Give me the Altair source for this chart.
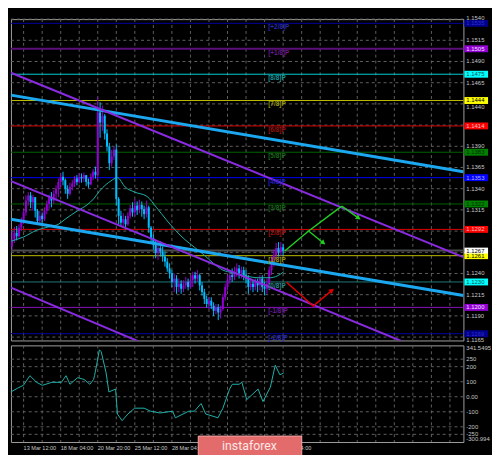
import altair as alt
import numpy as np
import pandas as pd

# ---------------- data ----------------
bar_close = [
 1.1280, 1.1288, 1.1284, 1.1294, 1.1302, 1.1312, 1.1326, 1.1332, 1.1324, 1.1330,
 1.1314, 1.1302, 1.1308, 1.1304, 1.1314, 1.1322, 1.1330, 1.1326, 1.1334, 1.1340,
 1.1348, 1.1354, 1.1350, 1.1340, 1.1334, 1.1342, 1.1346, 1.1352, 1.1348, 1.1354,
 1.1352, 1.1356, 1.1348, 1.1345, 1.1354, 1.1360, 1.1356, 1.1430, 1.1418, 1.1426,
 1.1405, 1.1390, 1.1370, 1.1378, 1.1386, 1.1328, 1.1308, 1.1300, 1.1304, 1.1298,
 1.1308, 1.1317, 1.1312, 1.1320, 1.1315, 1.1321, 1.1316, 1.1310, 1.1318, 1.1294,
 1.1282, 1.1274, 1.1264, 1.1270, 1.1266, 1.1260, 1.1254, 1.1246, 1.1240, 1.1230,
 1.1234, 1.1224, 1.1228, 1.1222, 1.1226, 1.1230, 1.1224, 1.1232, 1.1238, 1.1234,
 1.1238, 1.1226, 1.1218, 1.1210, 1.1204, 1.1208, 1.1202, 1.1196, 1.1200, 1.1194,
 1.1198, 1.1212, 1.1224, 1.1232, 1.1238, 1.1236, 1.1242, 1.1246, 1.1240, 1.1244,
 1.1238, 1.1234, 1.1224, 1.1228, 1.1224, 1.1230, 1.1226, 1.1234, 1.1224, 1.1222,
 1.1228, 1.1244, 1.1256, 1.1262, 1.1270, 1.1265, 1.1271, 1.1267]
bar_high = [
 1.1290, 1.1295, 1.1296, 1.1298, 1.1306, 1.1315, 1.1332, 1.1336, 1.1336, 1.1333,
 1.1324, 1.1316, 1.1314, 1.1312, 1.1318, 1.1326, 1.1333, 1.1336, 1.1338, 1.1344,
 1.1352, 1.1358, 1.1360, 1.1352, 1.1344, 1.1347, 1.1350, 1.1355, 1.1356, 1.1358,
 1.1358, 1.1359, 1.1356, 1.1352, 1.1358, 1.1363, 1.1366, 1.1448, 1.1442, 1.1438,
 1.1428, 1.1410, 1.1394, 1.1386, 1.1390, 1.1392, 1.1330, 1.1314, 1.1311, 1.1308,
 1.1312, 1.1321, 1.1324, 1.1328, 1.1325, 1.1327, 1.1325, 1.1320, 1.1326, 1.1320,
 1.1296, 1.1286, 1.1280, 1.1276, 1.1278, 1.1272, 1.1266, 1.1258, 1.1252, 1.1244,
 1.1240, 1.1238, 1.1234, 1.1232, 1.1232, 1.1236, 1.1234, 1.1238, 1.1242, 1.1242,
 1.1244, 1.1240, 1.1230, 1.1222, 1.1214, 1.1212, 1.1212, 1.1206, 1.1204, 1.1204,
 1.1202, 1.1216, 1.1228, 1.1238, 1.1244, 1.1246, 1.1248, 1.1252, 1.1250, 1.1248,
 1.1248, 1.1244, 1.1238, 1.1234, 1.1232, 1.1234, 1.1234, 1.1238, 1.1238, 1.1230,
 1.1234, 1.1248, 1.1260, 1.1268, 1.1276, 1.1277, 1.1277, 1.1275]
bar_low = [
 1.1268, 1.1276, 1.1279, 1.1282, 1.1290, 1.1298, 1.1308, 1.1320, 1.1317, 1.1314,
 1.1306, 1.1298, 1.1298, 1.1300, 1.1302, 1.1310, 1.1316, 1.1318, 1.1322, 1.1326,
 1.1330, 1.1342, 1.1344, 1.1334, 1.1328, 1.1332, 1.1338, 1.1342, 1.1344, 1.1346,
 1.1347, 1.1348, 1.1343, 1.1341, 1.1344, 1.1350, 1.1352, 1.1350, 1.1400, 1.1408,
 1.1398, 1.1384, 1.1362, 1.1366, 1.1374, 1.1320, 1.1298, 1.1295, 1.1294, 1.1292,
 1.1296, 1.1305, 1.1307, 1.1308, 1.1309, 1.1311, 1.1307, 1.1304, 1.1306, 1.1288,
 1.1276, 1.1268, 1.1258, 1.1256, 1.1260, 1.1254, 1.1248, 1.1242, 1.1234, 1.1224,
 1.1218, 1.1216, 1.1218, 1.1216, 1.1218, 1.1222, 1.1220, 1.1222, 1.1224, 1.1228,
 1.1230, 1.1220, 1.1214, 1.1204, 1.1200, 1.1198, 1.1198, 1.1190, 1.1192, 1.1185,
 1.1187, 1.1196, 1.1208, 1.1220, 1.1228, 1.1230, 1.1232, 1.1236, 1.1234, 1.1234,
 1.1232, 1.1228, 1.1216, 1.1220, 1.1218, 1.1220, 1.1218, 1.1220, 1.1218, 1.1214,
 1.1216, 1.1226, 1.1238, 1.1248, 1.1256, 1.1260, 1.1261, 1.1261]
first_open = 1.1272

ma_idx = [0.5, 5.9, 11.6, 16.9, 21.0, 23.9, 29.3, 33.4, 36.2, 38.7, 41.6, 43.6, 46.5,
          49.8, 53.9, 59.2, 63.3, 67.4, 71.5, 75.6, 79.7, 83.8, 87.9, 92.0, 96.1,
          101.9, 107.2, 112.5, 115.4, 118.3]
ma_val = [1.1278, 1.1283, 1.1291, 1.1295, 1.1298, 1.1304, 1.1314, 1.1321, 1.1328, 1.1337,
          1.1345, 1.1349, 1.1353, 1.1342, 1.1336, 1.1331, 1.1318, 1.1304, 1.1291, 1.1280,
          1.1271, 1.1262, 1.1252, 1.1244, 1.1241, 1.1237, 1.1235, 1.1235, 1.1237, 1.1242]

cci_idx = [0.5, 3.4, 5.9, 8.7, 11.6, 14.1, 18.2, 22.3, 24.3, 26.0, 29.3, 32.1, 34.6, 36.2,
           36.6, 37.5, 38.7, 39.5, 41.6, 42.8, 45.7, 46.5, 48.5, 51.0, 53.9, 58.0, 60.8,
           64.9, 70.3, 71.5, 77.3, 79.7, 82.6, 84.6, 89.9, 92.0, 94.9, 96.1, 99.0, 100.2,
           102.3, 107.2, 109.3, 112.5, 114.6, 116.6, 118.3]
cci_val = [32, 57, 76, 140, 96, 76, 96, 96, 140, 83, 127, 115, 83, 115, 140, 210, 312, 299,
           159, 32, 51, -115, -159, -115, -76, -76, -96, -108, -96, -140, -96, -96, -45,
           -115, -140, -76, 51, 83, 83, 96, -19, 51, -32, 64, 210, 146, 159]

murray_names = ["[+2/8]P", "[+1/8]P", "[8/8]P", "[7/8]P", "[6/8]P", "[5/8]P", "[4/8]P",
                "[3/8]P", "[2/8]P", "[1/8]P", "[0/8]P", "[-1/8]P", "[-2/8]P"]
murray_prices = [1.1535, 1.1505, 1.1475, 1.1444, 1.1414, 1.1383, 1.1353,
                 1.1322, 1.1292, 1.1261, 1.1230, 1.1200, 1.1169]
current_price = 1.1267

# price-scale labels that are not hidden under the coloured level boxes
price_ticks = [1.1515, 1.1490, 1.1465, 1.1390, 1.1365,
               1.1340, 1.1315, 1.1240, 1.1215, 1.1190]
# labels that peek out from just beside a level box (ticks, text nudge in px)
edge_ticks = [1.1540, 1.1440, 1.1165]
edge_nudge = [-1.5, 3.0, 2.6]
grid_ticks = [1.1540, 1.1515, 1.1490, 1.1465, 1.1440, 1.1415, 1.1390, 1.1365,
              1.1340, 1.1315, 1.1290, 1.1265, 1.1240, 1.1215, 1.1190, 1.1165]
cci_ticks = [341.5495, 250, 200, 100, 0, -100, -200, -250, -300.994]
cci_tick_text = ["341.5495", "250", "200", "100", "0.00", "-100", "-200", "-250", "-300.994"]

time_idx = [6, 22, 38, 54, 70, 118]
time_text = ["13 Mar 12:00", "18 Mar 04:00", "20 Mar 20:00", "25 Mar 12:00",
             "28 Mar 04:00", "9 Apr 04:00"]

# trend lines: (bar index, price) end points
blue_lines = {"A": [(0.533, 1.14504), (195.82, 1.13600)],
              "B": [(0.533, 1.13040), (195.82, 1.12140)]}
purple_lines = {"C": [(0.533, 1.14767), (195.82, 1.12592)],
                "D": [(0.533, 1.13490), (195.82, 1.11304)],
                "E": [(0.533, 1.12234), (195.82, 1.09983)]}
green_paths = {"g1": [(118.7, 1.12665), (129.0, 1.12901), (143.3, 1.13194)],
               "g2": [(129.0, 1.12901), (135.1, 1.12766)],
               "g3": [(143.3, 1.13194), (150.3, 1.13059)]}
red_paths = {"r1": [(119.5, 1.12297), (131.0, 1.12015), (138.8, 1.12195)]}
arrow_heads_i = [135.1, 150.3, 138.8]
arrow_heads_p = [1.12766, 1.13059, 1.12195]
arrow_heads_angle = [129, 125, 50]

# ---------------- styles ----------------
W, H1, H2 = 459, 326, 98
XDOM = [0.533, 195.82]
PDOM = [1.1161, 1.1540]
CDOM = [-300.994, 341.5495]
FONT = "Liberation Sans"
FS = 6
BULL, BEAR = "#9400D3", "#00BFFF"
GRID = "#5f5f5f"
TXT = "#C8C8C8"

line_cols = ["#0000A0", "#5B0F78", "#00CED1", "#BDBD00", "#E00000", "#006400", "#0000FF",
             "#006400", "#E00000", "#BDBD00", "#1F7A7A", "#8A10C0", "#0000A0"]
label_cols = ["#2828B0", "#6A1A8A", "#1A9A9A", "#9A9A10", "#A01010", "#1A6A1A", "#2020C0",
              "#1A6A1A", "#A01010", "#9A9A10", "#2A8A8A", "#6A1A9A", "#2828B0"]
box_fill = ["#00008B", "#9400D3", "#00FFFF", "#FFFF00", "#FF0000", "#008000", "#0000FF",
            "#008000", "#FF0000", "#FFFF00", "#00FFFF", "#9400D3", "#00008B"]
box_text = ["#3030D0", "#F0E0FF", "#005050", "#000000", "#FFC0C0", "#002800", "#B0B0FF",
            "#002800", "#FFC0C0", "#000000", "#005050", "#F0E0FF", "#3030D0"]

xs = alt.Scale(domain=XDOM, nice=False, zero=False)
ps = alt.Scale(domain=PDOM, nice=False, zero=False)
cs = alt.Scale(domain=CDOM, nice=False, zero=False)


def X(f="i"):
    return alt.X(f"{f}:Q", scale=xs, axis=None)


def P(f="p"):
    return alt.Y(f"{f}:Q", scale=ps, axis=None)


def C(f="v"):
    return alt.Y(f"{f}:Q", scale=cs, axis=None)


# ---------------- tables ----------------
n = len(bar_close)
candles = pd.DataFrame({"i": list(range(1, n + 1)),
                        "o": [first_open] + bar_close[:-1],
                        "h": bar_high, "l": bar_low, "c": bar_close})
candles["h"] = candles[["h", "o", "c"]].max(axis=1)
candles["l"] = candles[["l", "o", "c"]].min(axis=1)
candles["col"] = np.where(candles["c"] >= candles["o"], BULL, BEAR)

murray = pd.DataFrame({"name": murray_names, "p": murray_prices, "lc": line_cols,
                       "tc": label_cols, "bf": box_fill, "bt": box_text,
                       "lab": [f"{v:.4f}" for v in murray_prices]})
murray["w"] = [2 if nm == "[+1/8]P" else 1 for nm in murray_names]


def paths_df(d):
    rows = []
    for k, pts in d.items():
        for j, (i, p) in enumerate(pts):
            rows.append({"name": k, "k": j, "i": i, "p": p})
    return pd.DataFrame(rows)


vgrid_df = pd.DataFrame({"i": list(range(6, 195, 8))})
hgrid_df = pd.DataFrame({"p": grid_ticks})
ptick_df = pd.DataFrame({"p": price_ticks, "lab": [f"{v:.4f}" for v in price_ticks]})
ma_df = pd.DataFrame({"i": ma_idx, "p": ma_val})
cci_df = pd.DataFrame({"i": cci_idx, "v": cci_val})
cgrid_df = pd.DataFrame({"v": [250, 200, 100, 0, -100, -200, -250]})
ctick_df = pd.DataFrame({"v": cci_ticks, "lab": cci_tick_text})
time_df = pd.DataFrame({"i": time_idx, "lab": time_text})
heads_df = pd.DataFrame({"i": arrow_heads_i, "p": arrow_heads_p, "a": arrow_heads_angle,
                         "col": ["#22CC22", "#22CC22", "#E00000"]})
cur_df = pd.DataFrame({"p": [current_price], "lab": [f"{current_price:.4f}"]})

# ---------------- main panel ----------------
hgrid = alt.Chart(hgrid_df).mark_rule(color=GRID, strokeDash=[3, 3], strokeWidth=1).encode(y=P())
vgrid = alt.Chart(vgrid_df).mark_rule(color=GRID, strokeDash=[3, 3], strokeWidth=1).encode(x=X())
mlines = alt.Chart(murray).mark_rule().encode(
    y=P(), color=alt.Color("lc:N", scale=None), strokeWidth=alt.StrokeWidth("w:Q", scale=None))
curline = alt.Chart(cur_df).mark_rule(color="#4a4a4a", strokeWidth=2).encode(y=P())

wick = alt.Chart(candles).mark_rule(strokeWidth=1).encode(
    x=X(), y=P("l"), y2="h:Q", color=alt.Color("col:N", scale=None))
body = alt.Chart(candles).mark_rule(strokeWidth=2).encode(
    x=X(), y=P("o"), y2="c:Q", color=alt.Color("col:N", scale=None))

ma = alt.Chart(ma_df).mark_line(color="#20B2AA", strokeWidth=1, interpolate="monotone").encode(x=X(), y=P())
blue = alt.Chart(paths_df(blue_lines)).mark_line(color="#1CA8F0", strokeWidth=3, clip=True).encode(
    x=X(), y=P(), detail="name:N", order="k:Q")
purple = alt.Chart(paths_df(purple_lines)).mark_line(color="#8A2BE2", strokeWidth=2, clip=True).encode(
    x=X(), y=P(), detail="name:N", order="k:Q")
green = alt.Chart(paths_df(green_paths)).mark_line(color="#22CC22", strokeWidth=1.5).encode(
    x=X(), y=P(), detail="name:N", order="k:Q")
red = alt.Chart(paths_df(red_paths)).mark_line(color="#E00000", strokeWidth=1.5).encode(
    x=X(), y=P(), detail="name:N", order="k:Q")
heads = alt.Chart(heads_df).mark_point(shape="triangle", filled=True, size=32, opacity=1).encode(
    x=X(), y=P(), angle=alt.Angle("a:Q", scale=None), color=alt.Color("col:N", scale=None))

mlabels = alt.Chart(murray).mark_text(align="left", baseline="middle", dy=4, fontSize=6.5,
                                      font=FONT, fontWeight="bold").encode(
    x=alt.value(261), y=P(), text="name:N", color=alt.Color("tc:N", scale=None))
plabels = alt.Chart(ptick_df).mark_text(align="left", baseline="middle", fontSize=FS,
                                        font=FONT, color=TXT).encode(
    x=alt.value(W + 3), y=P(), text="lab:N")
edge_layers = []
for tv, nd in zip(edge_ticks, edge_nudge):
    edge_layers.append(
        alt.Chart(pd.DataFrame({"p": [tv], "lab": [f"{tv:.4f}"]})).mark_text(
            align="left", baseline="middle", fontSize=FS, font=FONT, color=TXT, dy=nd).encode(
            x=alt.value(W + 3), y=P(), text="lab:N"))
boxes = alt.Chart(murray).mark_rule(strokeWidth=7, strokeCap="butt").encode(
    x=alt.value(W + 1), x2=alt.value(W + 25), y=P(), color=alt.Color("bf:N", scale=None))
boxtxt = alt.Chart(murray).mark_text(align="left", baseline="middle", fontSize=FS, font=FONT).encode(
    x=alt.value(W + 3), y=P(), text="lab:N", color=alt.Color("bt:N", scale=None))
curbox = alt.Chart(cur_df).mark_rule(strokeWidth=6, strokeCap="butt", color="#FFFFFF").encode(
    x=alt.value(W + 1), x2=alt.value(W + 25), y=P())
curtxt = alt.Chart(cur_df).mark_text(align="left", baseline="middle", fontSize=FS, font=FONT,
                                     color="#000000").encode(x=alt.value(W + 3), y=P(), text="lab:N")

main = alt.layer(hgrid, vgrid, mlines, curline, wick, body, ma, blue, purple, green, red, heads,
                 mlabels, plabels, *edge_layers, boxes, boxtxt, curbox, curtxt
                 ).properties(width=W, height=H1)

# ---------------- CCI panel ----------------
cgrid = alt.Chart(cgrid_df).mark_rule(color=GRID, strokeDash=[3, 3], strokeWidth=1).encode(y=C())
cvgrid = alt.Chart(vgrid_df).mark_rule(color=GRID, strokeDash=[3, 3], strokeWidth=1).encode(x=X())
cline = alt.Chart(cci_df).mark_line(color="#20B2AA", strokeWidth=1).encode(x=X(), y=C())
clabels_mid = alt.Chart(ctick_df.iloc[1:-1]).mark_text(
    align="left", baseline="middle", fontSize=FS, font=FONT, color=TXT).encode(
    x=alt.value(W + 3), y=C(), text="lab:N")
clab_max = alt.Chart(ctick_df.iloc[[0]]).mark_text(align="left", baseline="top", fontSize=FS,
                                                   font=FONT, color=TXT).encode(
    x=alt.value(W + 3), y=C(), text="lab:N")
clab_min = alt.Chart(ctick_df.iloc[[-1]]).mark_text(align="left", baseline="bottom", fontSize=FS,
                                                    font=FONT, color=TXT).encode(
    x=alt.value(W + 3), y=C(), text="lab:N")
tlabels = alt.Chart(time_df).mark_text(align="left", baseline="middle", fontSize=5.6, font=FONT,
                                       color=TXT).encode(x=X(), y=alt.value(H2 + 6), text="lab:N")
logo = alt.Chart(pd.DataFrame({"t": ["instaforex"]})).mark_rect(
    fill="#E36B6B", stroke="#F4A8A8", strokeWidth=1).encode(
    x=alt.value(190), x2=alt.value(295), y=alt.value(H2 - 6), y2=alt.value(H2 + 15))
logotxt = alt.Chart(pd.DataFrame({"t": ["instaforex"]})).mark_text(
    fontSize=12.5, font="Roboto", color="#FCE6E6", baseline="middle", align="center").encode(
    x=alt.value(242), y=alt.value(H2 + 4), text="t:N")

cci = alt.layer(cgrid, cvgrid, cline, clabels_mid, clab_max, clab_min, tlabels, logo, logotxt
                ).properties(width=W, height=H2)

chart = alt.vconcat(main, cci, spacing=1).properties(
    background="#000000", padding={"left": 0, "top": 3, "right": 0, "bottom": 0}
).configure_view(stroke="#A0A0A0", strokeWidth=1)

chart.save("out.html", embed_options={"renderer": "svg", "actions": False})
